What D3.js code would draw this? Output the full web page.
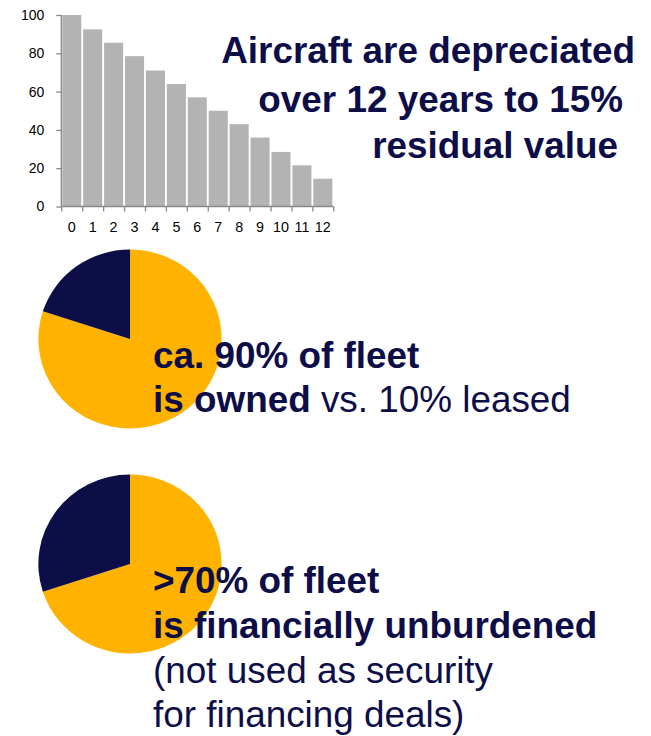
<!DOCTYPE html>
<html>
<head>
<meta charset="utf-8">
<script src="https://cdn.jsdelivr.net/npm/d3@7"></script>
<style>
  html, body { margin: 0; padding: 0; background: #ffffff; }
  svg { display: block; font-family: "Liberation Sans", Arial, sans-serif; }
  .tick-label { font-size: 14px; fill: #000; }
</style>
</head>
<body>
<svg id="chart" width="651" height="736"></svg>
<script>
// Book value of an aircraft (% of cost) by year of service
const years = ["0","1","2","3","4","5","6","7","8","9","10","11","12"];
const bookValue = [100, 92.5, 85.5, 78.5, 71, 64, 57, 50, 43, 36, 28.5, 21.5, 14.5];
const yTicks = [0, 20, 40, 60, 80, 100];

// Fleet split shown in the two pies
const ownershipLabels = ["owned", "leased"];
const ownershipShare = [80, 20];
const burdenLabels = ["unburdened", "used as security"];
const burdenShare = [70, 30];

const NAVY = "#0d0d48";
const GOLD = "#ffb200";
const BAR = "#b3b3b3";
const AXIS = "#888888";
const WIDEN = 1.024; // slightly widened lettering and pies

const svg = d3.select("#chart");

// ---- depreciation bar chart ----
const x = d3.scaleBand().domain(years).range([61.3, 333.3]).paddingInner(0.09).paddingOuter(0.045);
const y = d3.scaleLinear().domain([0, 100]).range([206.5, 15]);

svg.append("g").selectAll("rect").data(bookValue).join("rect")
  .attr("x", (d, i) => x(years[i]))
  .attr("y", d => y(d))
  .attr("width", x.bandwidth())
  .attr("height", d => y(0) - y(d))
  .attr("fill", BAR);

const yAxis = svg.append("g").attr("transform", `translate(${x.range()[0]},0)`)
  .call(d3.axisLeft(y).tickValues(yTicks).tickSize(5).tickPadding(12));
const xAxisScale = d3.scaleLinear().domain([0, years.length]).range(x.range());
const xAxis = svg.append("g").attr("transform", `translate(0,${y(0)})`)
  .call(d3.axisBottom(xAxisScale).tickValues(d3.range(years.length + 1)).tickSize(5).tickFormat(""));
svg.append("g").selectAll("text").data(years).join("text")
  .attr("class", "tick-label")
  .attr("transform", d => `translate(${x(d) + x.bandwidth() / 2},232) scale(${WIDEN},1)`)
  .attr("text-anchor", "middle")
  .text(d => d);

[yAxis, xAxis].forEach(g => {
  g.attr("font-size", null).attr("font-family", null);
  g.selectAll(".domain").attr("stroke", AXIS).attr("stroke-width", 1.3);
  g.selectAll(".tick line").attr("stroke", AXIS).attr("stroke-width", 1.3);
  g.selectAll("text").attr("class", "tick-label").attr("fill", null);
});
yAxis.select(".domain").attr("d", `M0,${y(100)}V${y(0)}`);
xAxis.select(".domain").attr("d", `M${x.range()[0]},0H${x.range()[1]}`);

// ---- headline (right-aligned lines) ----
const headline = [
  { text: "Aircraft are depreciated", x: 635, y: 63 },
  { text: "over 12 years to 15%", x: 623, y: 112 },
  { text: "residual value", x: 618, y: 158 }
];
svg.append("g").selectAll("text").data(headline).join("text")
  .attr("transform", d => `translate(${d.x},${d.y}) scale(${WIDEN},1)`)
  .attr("text-anchor", "end")
  .attr("font-size", 36).attr("font-weight", "bold")
  .attr("fill", NAVY)
  .text(d => d.text);

// ---- pies ----
const pie = d3.pie().sort(null).value(d => d);
const arc = d3.arc().innerRadius(0).outerRadius(89.5);

function drawPie(cx, cy, values) {
  const g = svg.append("g").attr("transform", `translate(${cx},${cy}) scale(${WIDEN},1)`);
  g.selectAll("path").data(pie(values)).join("path")
    .attr("d", arc)
    .attr("fill", (d, i) => i === 0 ? GOLD : NAVY);
}
drawPie(130, 339, ownershipShare);
drawPie(130, 564, burdenShare);

// ---- pie captions ----
function caption(x0, lines) {
  const g = svg.append("g");
  lines.forEach(line => {
    const t = g.append("text")
      .attr("transform", `translate(${x0},${line.y}) scale(${WIDEN},1)`)
      .attr("font-size", 36).attr("fill", NAVY);
    line.parts.forEach(p => {
      t.append("tspan").attr("font-weight", p.bold ? "bold" : "normal").text(p.t);
    });
  });
}
caption(153, [
  { y: 368, parts: [{ t: "ca. 90% of fleet", bold: true }] },
  { y: 411.5, parts: [{ t: "is owned", bold: true }, { t: " vs. 10% leased", bold: false }] }
]);
caption(153, [
  { y: 593, parts: [{ t: ">70% of fleet", bold: true }] },
  { y: 638, parts: [{ t: "is financially unburdened", bold: true }] },
  { y: 683, parts: [{ t: "(not used as security", bold: false }] },
  { y: 726.5, parts: [{ t: "for financing deals)", bold: false }] }
]);
</script>
</body>
</html>
